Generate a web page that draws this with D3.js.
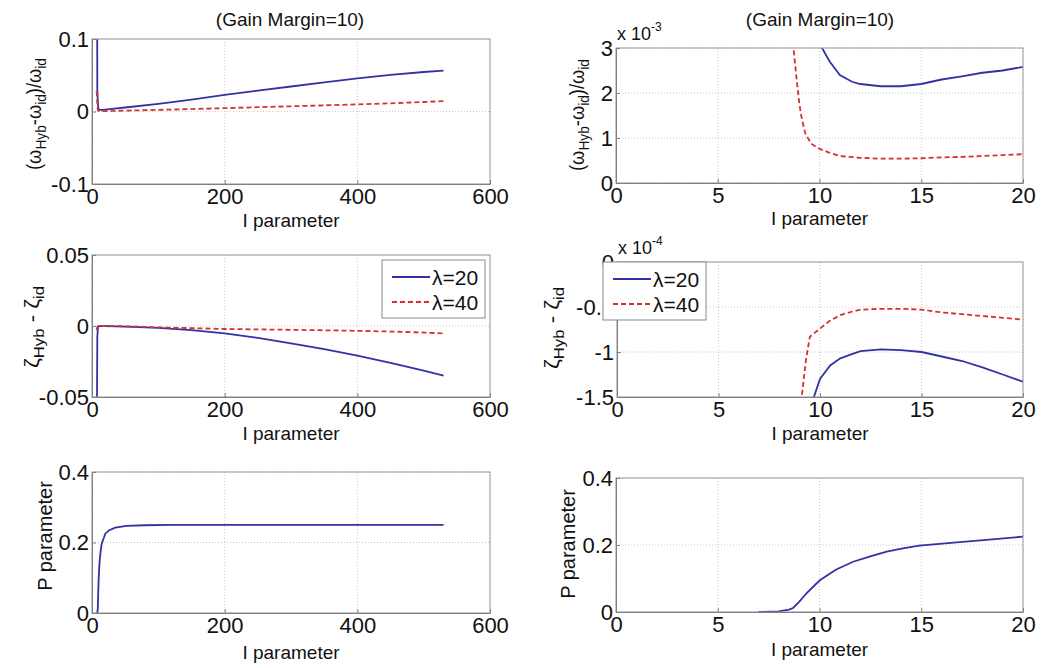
<!DOCTYPE html>
<html>
<head>
<meta charset="utf-8">
<script src="https://cdn.jsdelivr.net/npm/d3@7"></script>
<style>
  body { margin: 0; background: #fff; }
  svg text { font-family: "Liberation Sans", Arial, sans-serif; fill: #111; }
</style>
</head>
<body>
<svg id="chart" width="1046" height="668"></svg>
<script>
// ---- data ----
// (w_Hyb - w_id)/w_id, stored in units of 1e-3
const omegaI20 = [7, 8, 9, 9.5, 10, 10.5, 11, 11.6, 12, 13, 14, 15, 16, 17, 18, 19, 20, 30, 50, 100, 150, 200, 250, 300, 350, 400, 450, 500, 530];
const omega20 = [500, 30, 10, 5.5, 3.1, 2.7, 2.4, 2.25, 2.2, 2.15, 2.15, 2.2, 2.3, 2.37, 2.45, 2.5, 2.58, 3.5, 5.5, 10.6, 16.5, 22.8, 28.8, 34.5, 40.2, 45.8, 50.5, 54.5, 56.5];
const omegaI40 = [7, 8, 8.5, 8.7, 8.9, 9.0, 9.1, 9.3, 9.6, 10, 10.5, 11, 12, 13, 14, 15, 16, 17, 18, 19, 20, 50, 100, 150, 200, 250, 300, 350, 400, 450, 500, 530];
const omega40 = [28, 12, 5, 3.1, 2.2, 1.8, 1.5, 1.1, 0.87, 0.76, 0.67, 0.6, 0.56, 0.54, 0.54, 0.55, 0.57, 0.58, 0.6, 0.62, 0.64, 1.2, 2.2, 3.4, 4.6, 5.9, 7.2, 8.5, 9.8, 11.3, 13.1, 14.3];

// zeta_Hyb - zeta_id, stored in units of 1e-4
const zetaI20 = [7, 8, 9, 9.5, 9.7, 10, 10.5, 11, 11.6, 12, 13, 14, 15, 16, 17, 18, 19, 20, 50, 100, 150, 200, 250, 300, 350, 400, 450, 500, 530];
const zeta20 = [-1000, -80, -4, -1.8, -1.5, -1.3, -1.15, -1.07, -1.02, -0.99, -0.97, -0.98, -1.0, -1.05, -1.1, -1.17, -1.25, -1.33, -4, -13, -29, -52, -84, -122, -163, -209, -260, -315, -350];
const zetaI40 = [7, 8, 8.5, 9, 9.1, 9.3, 9.5, 10, 10.5, 11, 11.6, 12, 13, 14, 15, 16, 17, 18, 19, 20, 50, 100, 150, 200, 250, 300, 350, 400, 450, 500, 530];
const zeta40 = [-30, -6, -3, -1.7, -1.5, -1.1, -0.83, -0.74, -0.65, -0.59, -0.55, -0.53, -0.52, -0.52, -0.53, -0.56, -0.58, -0.6, -0.62, -0.64, -2, -10, -15, -21, -24, -27, -30, -34, -39, -46, -52];

// P parameter
const pI = [7, 8, 8.5, 8.7, 9, 9.36, 10, 10.8, 11.65, 12.5, 13.3, 14.1, 14.9, 16.6, 18.2, 20, 26, 35, 52, 80, 120, 200, 300, 400, 530];
const pVal = [0, 0.002, 0.007, 0.012, 0.03, 0.056, 0.094, 0.126, 0.15, 0.166, 0.18, 0.19, 0.198, 0.207, 0.215, 0.225, 0.235, 0.242, 0.247, 0.249, 0.25, 0.25, 0.25, 0.25, 0.25];

// ticks
const xTicksWide = [0, 200, 400, 600];
const xTicksZoom = [0, 5, 10, 15, 20];
const omegaTicksWide = [-100, 0, 100], omegaLabelsWide = ["-0.1", "0", "0.1"];
const omegaTicksZoom = [0, 1, 2, 3], omegaLabelsZoom = ["0", "1", "2", "3"];
const zetaTicksWide = [-500, 0, 500], zetaLabelsWide = ["-0.05", "0", "0.05"];
const zetaTicksZoom = [-1.5, -1, -0.5, 0], zetaLabelsZoom = ["-1.5", "-1", "-0.5", "0"];
const pTicks = [0, 0.2, 0.4], pLabels = ["0", "0.2", "0.4"];

const legendNames = ["\u03bb=20", "\u03bb=40"];
const titleText = "(Gain Margin=10)";
const xLabelText = "I parameter";

const BLUE = "#3232a4", RED = "#d63030";

const ser = (xs, ys, color, dash) => ({ pts: xs.map((x, i) => [x, ys[i]]), color, dash });
const omegaSeries = [ser(omegaI20, omega20, BLUE, null), ser(omegaI40, omega40, RED, "5,3")];
const zetaSeries = [ser(zetaI20, zeta20, BLUE, null), ser(zetaI40, zeta40, RED, "5,3")];
const pSeries = [ser(pI, pVal, BLUE, null)];

// y labels: [text, subscript?], plus the length they take in the figure
const omegaLabel = { parts: [["(\u03c9", 0], ["Hyb", 1], ["-\u03c9", 0], ["id", 1], [")/\u03c9", 0], ["id", 1]], len: 112 };
const zetaLabel = { parts: [["\u03b6", 0], ["Hyb", 1], [" - \u03b6", 0], ["id", 1]], len: 82 };
const pLabel = { parts: [["P parameter", 0]], len: 0 };

const panels = [
  { x0: 92, x1: 490, y0: 39, y1: 184, xd: [0, 600], xt: xTicksWide, yd: [-100, 100], yt: omegaTicksWide, yl: omegaLabelsWide,
    series: omegaSeries, title: [290, 26], ylab: omegaLabel, ylx: 41, yly: 114, xlab: 227 },
  { x0: 616, x1: 1023, y0: 48, y1: 183, xd: [0, 20], xt: xTicksZoom, yd: [0, 3], yt: omegaTicksZoom, yl: omegaLabelsZoom,
    series: omegaSeries, title: [820, 26], ylab: omegaLabel, ylx: 584, yly: 115, xlab: 225, expo: ["-3", 40] },
  { x0: 92, x1: 490, y0: 255, y1: 397, xd: [0, 600], xt: xTicksWide, yd: [-500, 500], yt: zetaTicksWide, yl: zetaLabelsWide,
    series: zetaSeries, ylab: zetaLabel, ylx: 39, yly: 327, xlab: 440, legend: [382, 260] },
  { x0: 617, x1: 1023, y0: 262, y1: 397, xd: [0, 20], xt: xTicksZoom, yd: [-1.5, 0], yt: zetaTicksZoom, yl: zetaLabelsZoom,
    series: zetaSeries, ylab: zetaLabel, ylx: 559, yly: 328, xlab: 440, expo: ["-4", 254], legend: [603, 262] },
  { x0: 92, x1: 490, y0: 472, y1: 613, xd: [0, 600], xt: xTicksWide, yd: [0, 0.4], yt: pTicks, yl: pLabels,
    series: pSeries, ylab: pLabel, ylx: 52, yly: 536, xlab: 659 },
  { x0: 616, x1: 1023, y0: 478, y1: 612, xd: [0, 20], xt: xTicksZoom, yd: [0, 0.4], yt: pTicks, yl: pLabels,
    series: pSeries, ylab: pLabel, ylx: 575, yly: 544, xlab: 656 }
];

const svg = d3.select("#chart");
svg.append("rect").attr("width", 1046).attr("height", 668).attr("fill", "#fff");

panels.forEach((p, idx) => {
  const x = d3.scaleLinear().domain(p.xd).range([p.x0, p.x1]);
  const y = d3.scaleLinear().domain(p.yd).range([p.y1, p.y0]);
  const g = svg.append("g");

  // grid
  g.selectAll(".gx").data(p.xt).enter().append("line")
    .attr("x1", d => x(d)).attr("x2", d => x(d)).attr("y1", p.y0).attr("y2", p.y1)
    .attr("stroke", "#c8c8c8").attr("stroke-dasharray", "1,2");
  g.selectAll(".gy").data(p.yt).enter().append("line")
    .attr("x1", p.x0).attr("x2", p.x1).attr("y1", d => y(d)).attr("y2", d => y(d))
    .attr("stroke", "#c8c8c8").attr("stroke-dasharray", "1,2");

  // data lines, clipped to the axes box
  const clipId = "clip" + idx;
  svg.append("clipPath").attr("id", clipId).append("rect")
    .attr("x", p.x0).attr("y", p.y0).attr("width", p.x1 - p.x0).attr("height", p.y1 - p.y0);
  const line = d3.line().x(d => x(d[0])).y(d => y(d[1]));
  g.append("g").attr("clip-path", `url(#${clipId})`)
    .selectAll("path").data(p.series).enter().append("path")
    .attr("d", d => line(d.pts))
    .attr("fill", "none").attr("stroke", d => d.color).attr("stroke-width", 1.8)
    .attr("stroke-dasharray", d => d.dash);

  // box
  g.append("rect").attr("x", p.x0).attr("y", p.y0).attr("width", p.x1 - p.x0).attr("height", p.y1 - p.y0)
    .attr("fill", "none").attr("stroke", "#9a9a9a").attr("stroke-width", 1);

  // axes
  const ax = g.append("g").attr("transform", `translate(0,${p.y1})`)
    .call(d3.axisBottom(x).tickValues(p.xt).tickSizeInner(-4).tickSizeOuter(0).tickPadding(4).tickFormat(d3.format("d")));
  const ay = g.append("g").attr("transform", `translate(${p.x0},0)`)
    .call(d3.axisLeft(y).tickValues(p.yt).tickSizeInner(-4).tickSizeOuter(0).tickPadding(3).tickFormat((d, i) => p.yl[i]));
  [ax, ay].forEach(a => {
    a.select(".domain").attr("stroke", "#808080");
    a.selectAll(".tick line").attr("stroke", "#808080");
    a.selectAll(".tick text").attr("font-size", 22).attr("fill", "#111")
      .attr("font-family", '"Liberation Sans", Arial, sans-serif');
  });

  // x label
  g.append("text").attr("x", (p.x0 + p.x1) / 2).attr("y", p.xlab)
    .attr("text-anchor", "middle").attr("font-size", 19).text(xLabelText);

  // y label with subscripts
  const yt = g.append("text").attr("transform", `translate(${p.ylx},${p.yly}) rotate(-90)`)
    .attr("text-anchor", "middle").attr("font-size", 20);
  if (p.ylab.len) yt.attr("textLength", p.ylab.len).attr("lengthAdjust", "spacingAndGlyphs");
  let shifted = 0;
  p.ylab.parts.forEach(([s, sub]) => {
    const dy = sub ? (shifted ? 0 : 5) : (shifted ? -5 : 0);
    shifted = sub;
    yt.append("tspan").attr("dy", dy).attr("font-size", sub ? 15 : 20).text(s);
  });

  // title
  if (p.title) {
    g.append("text").attr("x", p.title[0]).attr("y", p.title[1])
      .attr("text-anchor", "middle").attr("font-size", 19).text(titleText);
  }

  // exponent
  if (p.expo) {
    const t = g.append("text").attr("x", p.x0 + 1).attr("y", p.expo[1]).attr("font-size", 18);
    t.append("tspan").text("x 10");
    t.append("tspan").attr("dy", -9).attr("font-size", 12).text(p.expo[0]);
  }

  // legend
  if (p.legend) {
    const [lx, ly] = p.legend;
    const lg = g.append("g").attr("transform", `translate(${lx},${ly})`);
    lg.append("rect").attr("width", 103).attr("height", 58)
      .attr("fill", "#fff").attr("stroke", "#8a8a8a").attr("stroke-width", 1);
    zetaSeries.forEach((s, i) => {
      const yy = 17 + i * 25;
      lg.append("line").attr("x1", 10).attr("x2", 48).attr("y1", yy).attr("y2", yy)
        .attr("stroke", s.color).attr("stroke-width", 1.8).attr("stroke-dasharray", s.dash);
      lg.append("text").attr("x", 50).attr("y", yy + 8).attr("font-size", 21).text(legendNames[i]);
    });
  }
});
</script>
</body>
</html>
